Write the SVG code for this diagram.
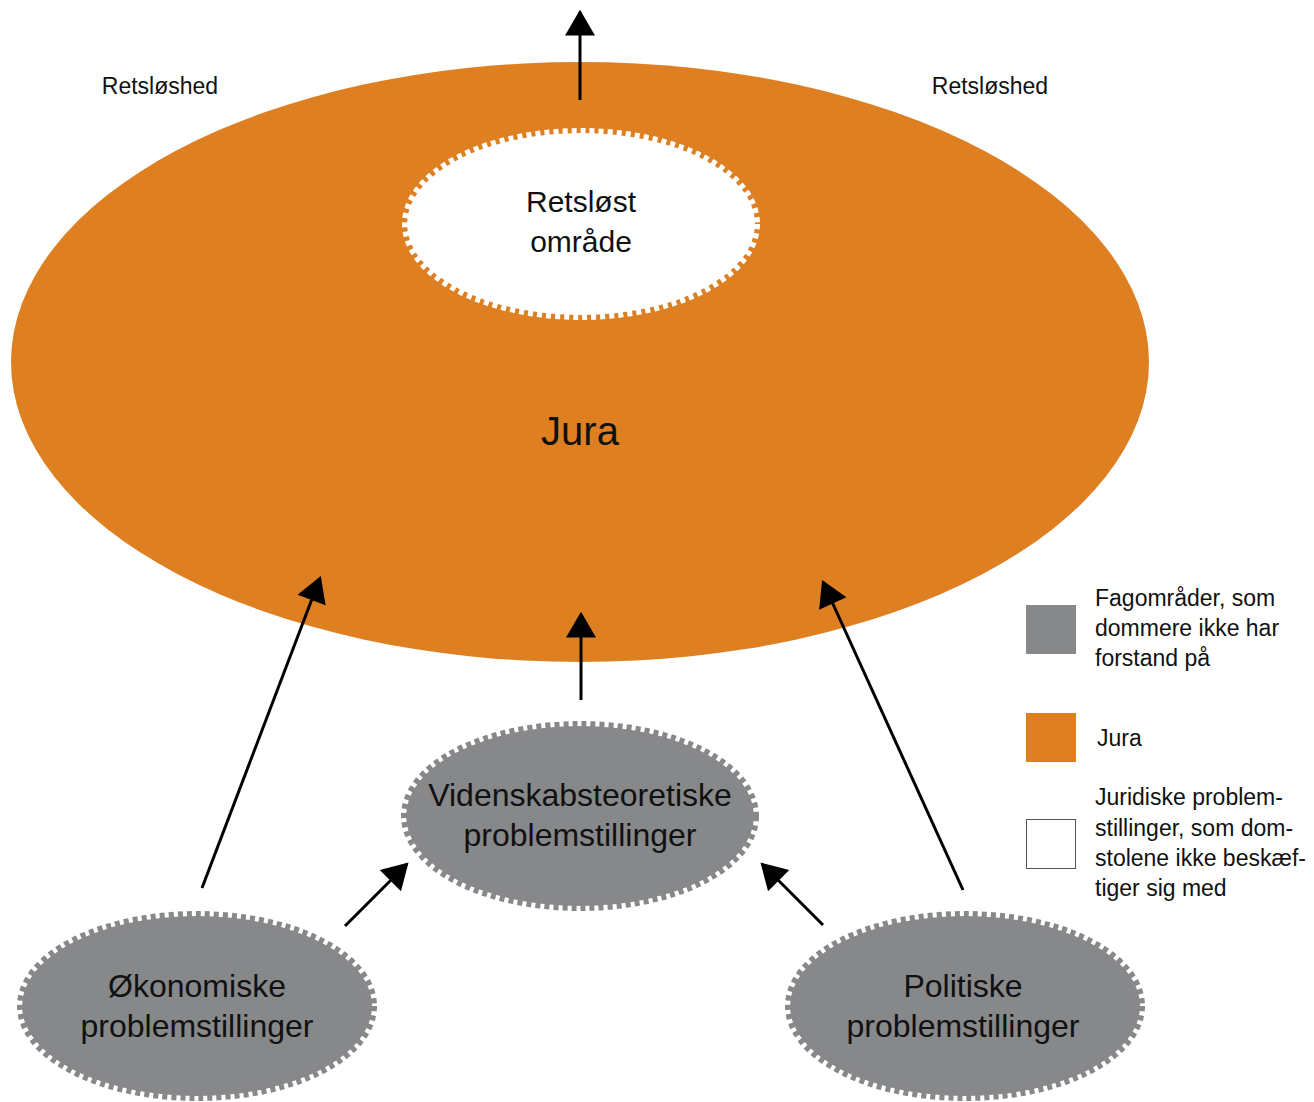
<svg xmlns="http://www.w3.org/2000/svg" width="1314" height="1102" viewBox="0 0 1314 1102">
<defs>
<style>
text{font-family:"Liberation Sans",Arial,sans-serif;fill:#111;text-anchor:middle}
.node{font-size:32px}
.inner{font-size:30px}
.small{font-size:23px}
.leg{font-size:23px;text-anchor:start}
.conn{stroke:#000;stroke-width:3;fill:none;marker-end:url(#ah)}
.gray{fill:#87888A;stroke:#87888A;stroke-width:10;stroke-dasharray:5 4}
</style>
<marker id="ah" markerUnits="userSpaceOnUse" markerWidth="30" markerHeight="30" viewBox="0 0 24 28" refX="22" refY="14" orient="auto">
<path d="M0,0 L24,14 L0,28 Z" fill="#000"/>
</marker>
</defs>
<rect width="1314" height="1102" fill="#fff"/>
<g id="jura">
<ellipse cx="580" cy="362" rx="569" ry="300" fill="#DE7F21"/>
<text x="580" y="445" style="font-size:40px">Jura</text>
</g>
<g id="retslost">
<ellipse cx="581" cy="224" rx="174" ry="91" fill="#fff" stroke="#fff" stroke-width="10" stroke-dasharray="5 4"/>
<text class="inner" x="581" y="212">Retsløst</text>
<text class="inner" x="581" y="252">område</text>
</g>
<g id="labels">
<text class="small" x="160" y="94">Retsløshed</text>
<text class="small" x="990" y="94">Retsløshed</text>
</g>
<g id="videnskab">
<ellipse class="gray" cx="580" cy="816" rx="174" ry="90"/>
<text class="node" x="580" y="806">Videnskabsteoretiske</text>
<text class="node" x="580" y="846">problemstillinger</text>
</g>
<g id="okonomiske">
<ellipse class="gray" cx="197" cy="1006" rx="175" ry="90"/>
<text class="node" x="197" y="997">Økonomiske</text>
<text class="node" x="197" y="1037">problemstillinger</text>
</g>
<g id="politiske">
<ellipse class="gray" cx="965" cy="1006" rx="175" ry="90"/>
<text class="node" x="963" y="997">Politiske</text>
<text class="node" x="963" y="1037">problemstillinger</text>
</g>
<g id="connectors">
<line class="conn" x1="580" y1="100" x2="580" y2="12"/>
<line class="conn" x1="581" y1="700" x2="581" y2="614"/>
<line class="conn" x1="202" y1="888" x2="320" y2="578"/>
<line class="conn" x1="963" y1="890" x2="823" y2="582"/>
<line class="conn" x1="345" y1="926" x2="407" y2="864"/>
<line class="conn" x1="823" y1="925" x2="762" y2="864"/>
</g>
<g id="legend">
<rect x="1026" y="605" width="50" height="49" fill="#87888A"/>
<rect x="1026" y="713" width="50" height="49" fill="#DE7F21"/>
<rect x="1026.5" y="819.5" width="49" height="49" fill="#fff" stroke="#555" stroke-width="1"/>
<text class="leg" x="1095" y="606">Fagområder, som</text>
<text class="leg" x="1095" y="636">dommere ikke har</text>
<text class="leg" x="1095" y="666">forstand på</text>
<text class="leg" x="1097" y="746">Jura</text>
<text class="leg" x="1095" y="805">Juridiske problem-</text>
<text class="leg" x="1095" y="836">stillinger, som dom-</text>
<text class="leg" x="1095" y="866">stolene ikke beskæf-</text>
<text class="leg" x="1095" y="896">tiger sig med</text>
</g>
</svg>
